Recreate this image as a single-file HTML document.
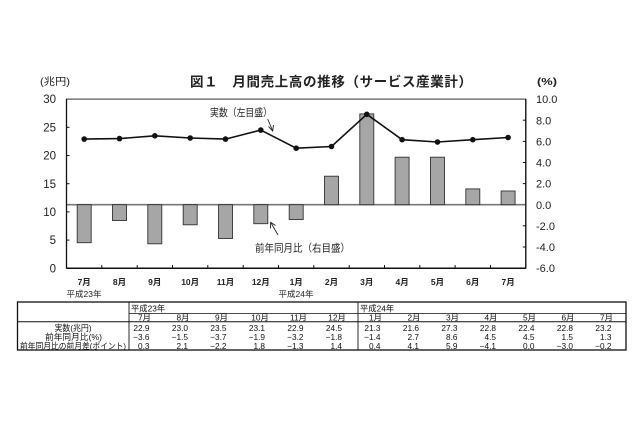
<!DOCTYPE html>
<html><head><meta charset="utf-8"><style>
html,body{margin:0;padding:0;background:#fff;}
svg{display:block;font-family:"Liberation Sans","Noto Sans CJK JP",sans-serif;}
</style></head><body>
<svg width="640" height="426" viewBox="0 0 640 426" xmlns="http://www.w3.org/2000/svg">
<rect width="640" height="426" fill="#fff"/>
<!-- title -->
<text x="190" y="86.5" font-size="13.5" font-weight="bold" fill="#222" textLength="282" lengthAdjust="spacing">図１　月間売上高の推移（サービス産業計）</text>
<text x="40" y="85" font-size="10" fill="#222" textLength="30" lengthAdjust="spacingAndGlyphs">(兆円)</text>
<text x="537" y="85" font-size="10" font-weight="bold" fill="#222" textLength="20" lengthAdjust="spacingAndGlyphs">(%)</text>

<!-- plot frame -->
<rect x="66.5" y="99.1" width="459.3" height="169.2" fill="none" stroke="#333" stroke-width="1"/>
<!-- zero line -->
<line x1="66.5" y1="204.7" x2="525.8" y2="204.7" stroke="#777" stroke-width="1.6"/>

<!-- bars -->
<g fill="#a6a6a6" stroke="#333" stroke-width="0.9">
<rect x="77.2" y="204.7" width="14" height="38.0"/>
<rect x="112.5" y="204.7" width="14" height="15.8"/>
<rect x="147.8" y="204.7" width="14" height="39.1"/>
<rect x="183.2" y="204.7" width="14" height="20.1"/>
<rect x="218.5" y="204.7" width="14" height="33.8"/>
<rect x="253.8" y="204.7" width="14" height="19.0"/>
<rect x="289.2" y="204.7" width="14" height="14.8"/>
<rect x="324.5" y="176.2" width="14" height="28.5"/>
<rect x="359.8" y="113.9" width="14" height="90.8"/>
<rect x="395.1" y="157.2" width="14" height="47.5"/>
<rect x="430.5" y="157.2" width="14" height="47.5"/>
<rect x="465.8" y="188.9" width="14" height="15.8"/>
<rect x="501.1" y="191.0" width="14" height="13.7"/>
</g>

<!-- axes -->
<line x1="66.5" y1="99.1" x2="66.5" y2="268.3" stroke="#111" stroke-width="1.3"/>
<line x1="525.8" y1="99.1" x2="525.8" y2="268.3" stroke="#111" stroke-width="1.3"/>
<line x1="66.5" y1="268.3" x2="525.8" y2="268.3" stroke="#111" stroke-width="1.5"/>
<g stroke="#111" stroke-width="1">
<line x1="101.8" y1="268.3" x2="101.8" y2="265"/>
<line x1="137.2" y1="268.3" x2="137.2" y2="265"/>
<line x1="172.5" y1="268.3" x2="172.5" y2="265"/>
<line x1="207.8" y1="268.3" x2="207.8" y2="265"/>
<line x1="243.2" y1="268.3" x2="243.2" y2="265"/>
<line x1="278.5" y1="268.3" x2="278.5" y2="265"/>
<line x1="313.8" y1="268.3" x2="313.8" y2="265"/>
<line x1="349.2" y1="268.3" x2="349.2" y2="265"/>
<line x1="384.5" y1="268.3" x2="384.5" y2="265"/>
<line x1="419.8" y1="268.3" x2="419.8" y2="265"/>
<line x1="455.1" y1="268.3" x2="455.1" y2="265"/>
<line x1="490.5" y1="268.3" x2="490.5" y2="265"/>
<line x1="522.8" y1="120.2" x2="525.8" y2="120.2"/>
<line x1="522.8" y1="141.4" x2="525.8" y2="141.4"/>
<line x1="522.8" y1="162.5" x2="525.8" y2="162.5"/>
<line x1="522.8" y1="183.6" x2="525.8" y2="183.6"/>
<line x1="522.8" y1="225.8" x2="525.8" y2="225.8"/>
<line x1="522.8" y1="247.0" x2="525.8" y2="247.0"/>
<line x1="66.5" y1="127.3" x2="69.5" y2="127.3"/>
<line x1="66.5" y1="155.5" x2="69.5" y2="155.5"/>
<line x1="66.5" y1="183.7" x2="69.5" y2="183.7"/>
<line x1="66.5" y1="211.9" x2="69.5" y2="211.9"/>
<line x1="66.5" y1="240.1" x2="69.5" y2="240.1"/>
</g>

<!-- line series -->
<polyline fill="none" stroke="#111" stroke-width="1.6" points="84.2,139.1 119.5,138.6 154.8,135.8 190.2,138.0 225.5,139.1 260.8,130.1 296.2,148.2 331.5,146.5 366.8,114.3 402.1,139.7 437.5,142.0 472.8,139.7 508.1,137.5"/>
<g fill="#111">
<circle cx="84.2" cy="139.1" r="2.8"/><circle cx="119.5" cy="138.6" r="2.8"/><circle cx="154.8" cy="135.8" r="2.8"/>
<circle cx="190.2" cy="138.0" r="2.8"/><circle cx="225.5" cy="139.1" r="2.8"/><circle cx="260.8" cy="130.1" r="2.8"/>
<circle cx="296.2" cy="148.2" r="2.8"/><circle cx="331.5" cy="146.5" r="2.8"/><circle cx="366.8" cy="114.3" r="2.8"/>
<circle cx="402.1" cy="139.7" r="2.8"/><circle cx="437.5" cy="142.0" r="2.8"/><circle cx="472.8" cy="139.7" r="2.8"/>
<circle cx="508.1" cy="137.5" r="2.8"/>
</g>

<!-- left axis labels -->
<g font-size="11.5" fill="#222" text-anchor="end">
<text x="56" y="103.2">30</text>
<text x="56" y="131.4">25</text>
<text x="56" y="159.6">20</text>
<text x="56" y="187.8">15</text>
<text x="56" y="216">10</text>
<text x="56" y="244.2">5</text>
<text x="56" y="272.4">0</text>
</g>
<!-- right axis labels -->
<g font-size="11" fill="#222">
<text x="536" y="103.2">10.0</text>
<text x="536" y="124.3">8.0</text>
<text x="536" y="145.5">6.0</text>
<text x="536" y="166.6">4.0</text>
<text x="536" y="187.7">2.0</text>
<text x="536" y="208.8">0.0</text>
<text x="536" y="229.9">-2.0</text>
<text x="536" y="251.1">-4.0</text>
<text x="536" y="272.2">-6.0</text>
</g>

<!-- x labels -->
<g font-size="8.5" font-weight="bold" fill="#222" text-anchor="middle">
<text x="84.2" y="284.8">7月</text>
<text x="119.5" y="284.8">8月</text>
<text x="154.8" y="284.8">9月</text>
<text x="190.2" y="284.8">10月</text>
<text x="225.5" y="284.8">11月</text>
<text x="260.8" y="284.8">12月</text>
<text x="296.2" y="284.8">1月</text>
<text x="331.5" y="284.8">2月</text>
<text x="366.8" y="284.8">3月</text>
<text x="402.1" y="284.8">4月</text>
<text x="437.5" y="284.8">5月</text>
<text x="472.8" y="284.8">6月</text>
<text x="508.1" y="284.8">7月</text>
</g>
<g font-size="8.5" fill="#222" text-anchor="middle">
<text x="84" y="297">平成23年</text>
<text x="296" y="297">平成24年</text>
</g>

<!-- annotations -->
<text x="210" y="116" font-size="10.5" fill="#222" textLength="62" lengthAdjust="spacingAndGlyphs">実数（左目盛）</text>
<g stroke="#222" stroke-width="0.9" fill="none">
<line x1="267.7" y1="119" x2="272.7" y2="131"/>
<polyline points="268.5,126.5 272.7,131 273.5,125"/>
</g>
<text x="255" y="251.5" font-size="10.5" fill="#222" textLength="95" lengthAdjust="spacingAndGlyphs">前年同月比（右目盛）</text>
<g stroke="#222" stroke-width="0.9" fill="none">
<line x1="278" y1="235" x2="270.7" y2="222.3"/>
<polyline points="270.5,228.5 270.7,222.3 275.5,225.5"/>
</g>

<!-- table -->
<g stroke="#111" fill="none">
<rect x="17.5" y="302" width="608.5" height="48" stroke-width="1.3"/>
<line x1="129" y1="313.5" x2="626" y2="313.5" stroke-width="0.8"/>
<line x1="17.5" y1="321.8" x2="626" y2="321.8" stroke-width="1"/>
<line x1="129" y1="302" x2="129" y2="350" stroke-width="0.9"/>
<line x1="358" y1="302" x2="358" y2="350" stroke-width="0.9"/>
</g>
<g font-size="8.3" fill="#111">
<text x="131" y="311.5">平成23年</text>
<text x="360" y="311.5">平成24年</text>
</g>
<g font-size="8.3" fill="#111" text-anchor="middle">
<text x="73" y="331" textLength="37" lengthAdjust="spacingAndGlyphs">実数(兆円)</text>
<text x="73.5" y="340" textLength="57" lengthAdjust="spacingAndGlyphs">前年同月比(%)</text>
<text x="73" y="349" textLength="106" lengthAdjust="spacingAndGlyphs">前年同月比の前月差(ポイント)</text>
</g>
<g font-size="8.3" fill="#111" text-anchor="middle">
<text x="144.5" y="320.3">7月</text>
<text x="183" y="320.3">8月</text>
<text x="221.5" y="320.3">9月</text>
<text x="260" y="320.3">10月</text>
<text x="298.5" y="320.3">11月</text>
<text x="337" y="320.3">12月</text>
<text x="375.5" y="320.3">1月</text>
<text x="414" y="320.3">2月</text>
<text x="452.5" y="320.3">3月</text>
<text x="491" y="320.3">4月</text>
<text x="529.5" y="320.3">5月</text>
<text x="568" y="320.3">6月</text>
<text x="606.5" y="320.3">7月</text>
</g>
<g font-size="8.3" fill="#111" text-anchor="end">
<text x="149.5" y="331">22.9</text><text x="188" y="331">23.0</text><text x="226.5" y="331">23.5</text>
<text x="265" y="331">23.1</text><text x="303.5" y="331">22.9</text><text x="342" y="331">24.5</text>
<text x="380.5" y="331">21.3</text><text x="419" y="331">21.6</text><text x="457.5" y="331">27.3</text>
<text x="496" y="331">22.8</text><text x="534.5" y="331">22.4</text><text x="573" y="331">22.8</text>
<text x="611.5" y="331">23.2</text>

<text x="149.5" y="340">−3.6</text><text x="188" y="340">−1.5</text><text x="226.5" y="340">−3.7</text>
<text x="265" y="340">−1.9</text><text x="303.5" y="340">−3.2</text><text x="342" y="340">−1.8</text>
<text x="380.5" y="340">−1.4</text><text x="419" y="340">2.7</text><text x="457.5" y="340">8.6</text>
<text x="496" y="340">4.5</text><text x="534.5" y="340">4.5</text><text x="573" y="340">1.5</text>
<text x="611.5" y="340">1.3</text>

<text x="149.5" y="349">0.3</text><text x="188" y="349">2.1</text><text x="226.5" y="349">−2.2</text>
<text x="265" y="349">1.8</text><text x="303.5" y="349">−1.3</text><text x="342" y="349">1.4</text>
<text x="380.5" y="349">0.4</text><text x="419" y="349">4.1</text><text x="457.5" y="349">5.9</text>
<text x="496" y="349">−4.1</text><text x="534.5" y="349">0.0</text><text x="573" y="349">−3.0</text>
<text x="611.5" y="349">−0.2</text>
</g>
</svg>
</body></html>
